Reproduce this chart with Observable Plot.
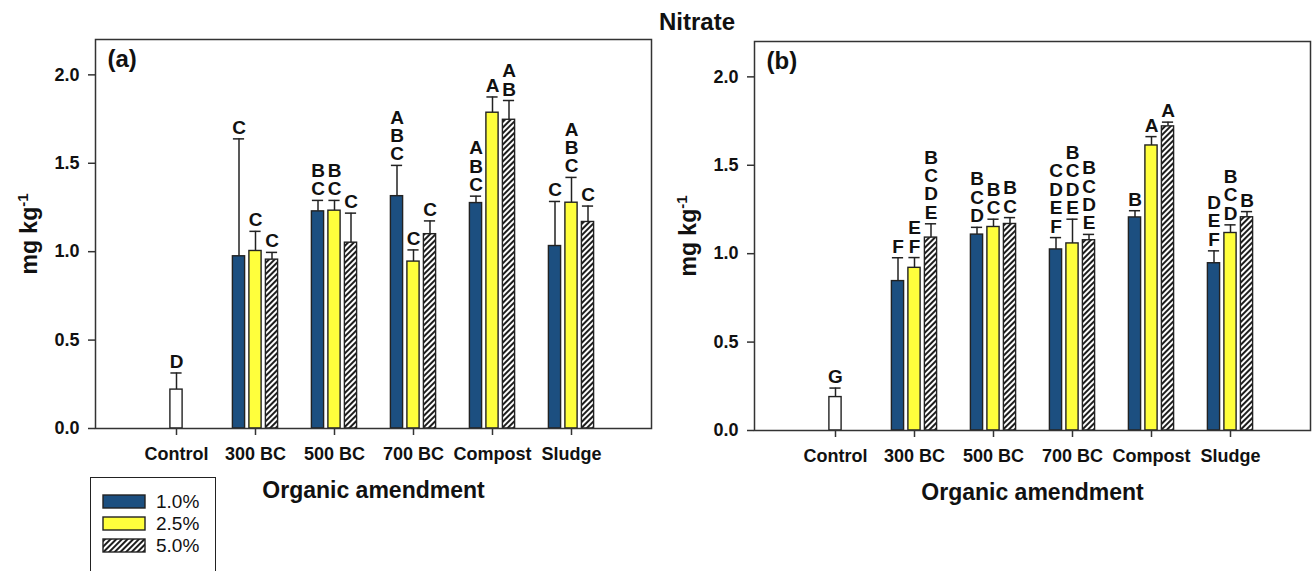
<!DOCTYPE html>
<html><head><meta charset="utf-8">
<script src="https://cdn.jsdelivr.net/npm/d3@7"></script>
<script src="https://cdn.jsdelivr.net/npm/@observablehq/plot@0.6"></script>
<style>
html,body{margin:0;padding:0;background:#fff;}
#root{position:relative;width:1315px;height:571px;overflow:hidden;font-family:"Liberation Sans",Arial,sans-serif;color:#111;}
.panel{position:absolute;}
#title{position:absolute;left:597px;width:200px;top:10px;text-align:center;font-weight:bold;font-size:24px;line-height:24px;}
#legend{position:absolute;left:90px;top:477px;width:124px;height:110px;border:1.5px solid #222;background:#fff;}
</style></head><body>
<svg width="0" height="0" style="position:absolute">
<defs><pattern id="hatch" patternUnits="userSpaceOnUse" width="4" height="4" patternTransform="rotate(45)">
<rect width="4" height="4" fill="#fff"/><line x1="2" y1="0" x2="2" y2="4" stroke="#111" stroke-width="1.9"/></pattern></defs></svg>
<div id="root">
<div id="title">Nitrate</div>
<div id="pa" class="panel" style="left:0;top:0"></div>
<div id="pb" class="panel" style="left:659px;top:2px"></div>
<div id="legend"></div>
</div>
<script>
// ---- data ----
const categories = ["Control", "300 BC", "500 BC", "700 BC", "Compost", "Sludge"];
const treatments = categories.slice(1);
const rates = ["1.0%", "2.5%", "5.0%"];
const yTicks = [0, 0.5, 1.0, 1.5, 2.0];

// panel (a)
const controlA = 0.220, controlErrA = 0.094, controlLetterA = "D";
const a10 = [0.974, 1.228, 1.314, 1.275, 1.032];
const a10Err = [0.664, 0.062, 0.174, 0.039, 0.252];
const a25 = [1.004, 1.232, 0.944, 1.786, 1.277];
const a25Err = [0.111, 0.058, 0.066, 0.089, 0.143];
const a50 = [0.955, 1.051, 1.099, 1.746, 1.168];
const a50Err = [0.041, 0.167, 0.075, 0.109, 0.090];
const a10Letters = ["C", "B\nC", "A\nB\nC", "A\nB\nC", "C"];
const a25Letters = ["C", "B\nC", "C", "A", "A\nB\nC"];
const a50Letters = ["C", "C", "C", "A\nB", "C"];

// panel (b)
const controlB = 0.189, controlErrB = 0.051, controlLetterB = "G";
const b10 = [0.845, 1.108, 1.024, 1.205, 0.946];
const b10Err = [0.132, 0.041, 0.067, 0.038, 0.070];
const b25 = [0.920, 1.151, 1.058, 1.612, 1.117];
const b25Err = [0.058, 0.044, 0.137, 0.050, 0.046];
const b50 = [1.091, 1.168, 1.076, 1.720, 1.206];
const b50Err = [0.078, 0.036, 0.033, 0.024, 0.032];
const b10Letters = ["F", "B\nC\nD", "C\nD\nE\nF", "B", "D\nE\nF"];
const b25Letters = ["E\nF", "B\nC", "B\nC\nD\nE", "A", "B\nC\nD"];
const b50Letters = ["B\nC\nD\nE", "B\nC", "B\nC\nD\nE", "A", "B"];

// ---- styling ----
const FONT = "'Liberation Sans', Arial, sans-serif";
const fills = {control: "#ffffff", "1.0%": "#1c4f80", "2.5%": "#ffff3c", "5.0%": "url(#hatch)"};
const offsets = {control: 0, "1.0%": -16.5, "2.5%": 0, "5.0%": 16.5};
const INSET = 9.9;

function buildRows(ctrl, ctrlErr, ctrlLetter, vals, errs, lets) {
  const out = [{cat: categories[0], rate: "control", value: ctrl, upper: ctrl + ctrlErr, letter: ctrlLetter}];
  rates.forEach((r, j) => treatments.forEach((c, i) => out.push({
    cat: c, rate: r, value: vals[j][i], upper: vals[j][i] + errs[j][i], letter: lets[j][i]
  })));
  return out;
}

function seriesMarks(rows) {
  const marks = [];
  for (const key of ["control", ...rates]) {
    const d = rows.filter(r => r.rate === key);
    const dx = offsets[key];
    marks.push(
      Plot.ruleX(d, {x: "cat", y1: "value", y2: "upper", dx, stroke: "#222", strokeWidth: 1.5}),
      Plot.tickY(d, {x: "cat", y: "upper", dx, insetLeft: INSET + 0.5, insetRight: INSET + 0.5, stroke: "#222", strokeWidth: 1.5}),
      Plot.barY(d, {x: "cat", y: "value", dx, insetLeft: INSET, insetRight: INSET, fill: fills[key], stroke: "#222", strokeWidth: 1.4}),
      Plot.text(d, {x: "cat", y: "upper", text: "letter", dx, dy: -5, lineAnchor: "bottom", lineHeight: 0.97, fontSize: 19, fontWeight: "bold", fill: "#111"})
    );
  }
  return marks;
}

function makePanel(rows, tag) {
  const svg = Plot.plot({
    width: 655, height: 508,
    marginLeft: 95, marginRight: 4, marginTop: 39, marginBottom: 80,
    x: {domain: categories, paddingInner: 0.6, paddingOuter: 0.8},
    y: {domain: [0, 2.2]},
    style: {fontFamily: FONT, background: "transparent", color: "#111", overflow: "visible"},
    marks: [
      Plot.axisY({ticks: yTicks, tickFormat: d3.format(".1f"), tickSize: 7, tickPadding: 9, fontSize: 18, fontWeight: "bold", label: null, stroke: "#333", strokeWidth: 1.5}),
      Plot.axisX({tickSize: 7, tickPadding: 12, fontSize: 18, fontWeight: "bold", label: null, stroke: "#333", strokeWidth: 1.5}),
      ...seriesMarks(rows),
      Plot.frame({stroke: "#333", strokeWidth: 1.5}),
      Plot.text([tag], {frameAnchor: "top-left", dx: 12, dy: 10, textAnchor: "start", lineAnchor: "top", fontSize: 24, fontWeight: "bold", fill: "#111"}),
      Plot.text(["Organic amendment"], {frameAnchor: "bottom", dy: 69, fontSize: 23, fontWeight: "bold", fill: "#111"})
    ]
  });
  const t = d3.select(svg).append("text")
    .attr("transform", "translate(37,234) rotate(-90)")
    .attr("text-anchor", "middle")
    .attr("font-size", 23).attr("font-weight", "bold").attr("fill", "#111")
    .attr("font-family", FONT);
  t.append("tspan").text("mg kg");
  t.append("tspan").attr("dy", -9).attr("font-size", 15).text("-1");
  return svg;
}

const rowsA = buildRows(controlA, controlErrA, controlLetterA, [a10, a25, a50], [a10Err, a25Err, a50Err], [a10Letters, a25Letters, a50Letters]);
const rowsB = buildRows(controlB, controlErrB, controlLetterB, [b10, b25, b50], [b10Err, b25Err, b50Err], [b10Letters, b25Letters, b50Letters]);

document.getElementById("pa").append(makePanel(rowsA, "(a)"));
document.getElementById("pb").append(makePanel(rowsB, "(b)"));

// ---- legend ----
const leg = d3.select("#legend").append("svg").attr("width", 124).attr("height", 110);
rates.forEach((r, i) => {
  const g = leg.append("g").attr("transform", `translate(0,${17 + i * 22})`);
  g.append("rect").attr("x", 12).attr("y", 0).attr("width", 42).attr("height", 13)
    .attr("fill", fills[r]).attr("stroke", "#222").attr("stroke-width", 1.4);
  g.append("text").attr("x", 65).attr("y", 13).attr("font-size", 19)
    .attr("font-family", FONT).attr("fill", "#111").text(r);
});
</script>
</body></html>
